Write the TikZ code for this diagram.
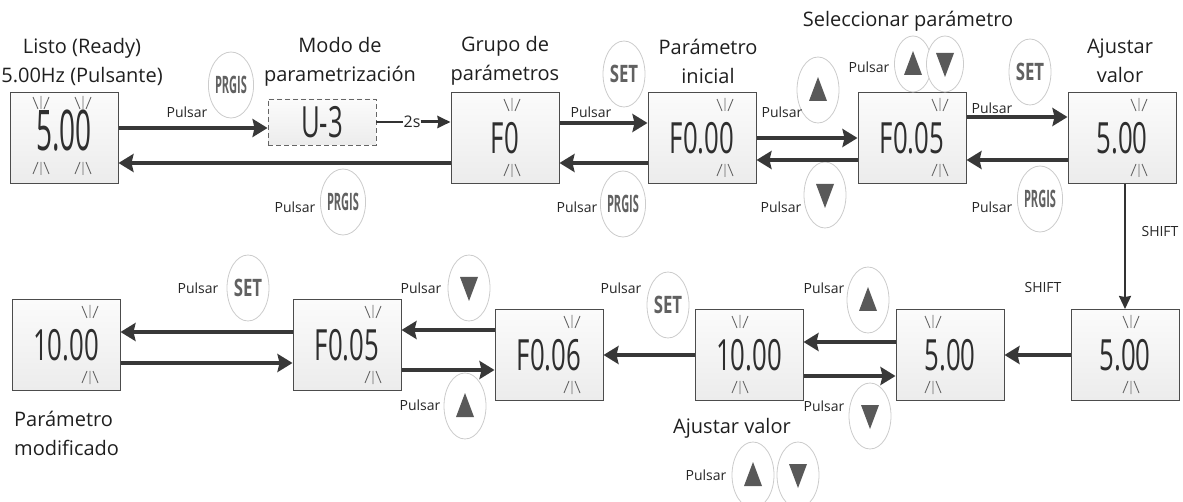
\documentclass[tikz,border=0pt]{standalone}
\usepackage{fontspec}
\setmainfont{Open Sans}
\usepackage{graphicx}
\usetikzlibrary{arrows.meta, positioning, shapes.geometric}

\newcommand{\lcd}[2][0.6]{\scalebox{#1}[1]{#2}}

\begin{document}
\begin{tikzpicture}[
    x=1pt, y=-1pt,
    >=Stealth,
    box/.style={draw=black!70, line width=1pt, top color=gray!3, bottom color=gray!15,
      minimum width=108pt, minimum height=91pt, inner sep=0pt, text=black!82,
      font=\fontsize{43}{43}\selectfont},
    key/.style={ellipse, draw=black!20, line width=0.8pt, fill=white,
      minimum width=42pt, minimum height=66pt, inner sep=0pt,
      font=\bfseries\fontsize{24}{24}\selectfont, text=black!62},
    smallkey/.style={key, minimum width=37pt, minimum height=56pt},
    lbl/.style={font=\fontsize{20}{29}\selectfont, align=center, inner sep=0pt, text=black!88},
    note/.style={font=\fontsize{14}{16}\selectfont, inner sep=0pt, text=black!85},
    arr/.style={-{Stealth[length=15pt, width=18pt, inset=2pt]}, line width=4pt, draw=black!78},
    thinarr/.style={-{Stealth[length=13pt, width=12pt, inset=1pt]}, line width=2pt, draw=black!80},
    ray/.style={line width=0.9pt, draw=black!60}
  ]
  \useasboundingbox (0,0) rectangle (1183,502);

  % Top row
  \node[box, text depth=16pt] (rdy) at (64,138) {\lcd[0.5]{\fontsize{56}{56}\selectfont 5.00}};
  \node[lbl] at (82,62) {Listo (Ready)\\5.00Hz (Pulsante)};

  \node[box, dash pattern=on 5pt off 3pt, minimum height=46pt, draw=black!60, line width=0.9pt] (mode) at (322,122) {\lcd{U-3}};
  \node[lbl] at (340,62) {Modo de\\parametrización};
  \node[note, font=\fontsize{16}{16}\selectfont] (twos) at (412,122) {2s};

  \node[box] (grp) at (505,138) {\lcd{F0}};
  \node[lbl] at (505,61) {Grupo de\\parámetros};

  \node[box] (ini) at (702,138) {\lcd{F0.00}};
  \node[lbl] at (708,61) {Parámetro\\inicial};

  \node[box] (sel) at (912,138) {\lcd{F0.05}};
  \node[lbl] at (908,21) {Seleccionar parámetro};

  \node[box] (adj) at (1122,138) {\lcd{5.00}};
  \node[lbl] at (1120,61) {Ajustar\\valor};

  % Bottom row
  \node[box] (mod) at (66,345) {\lcd{10.00}};
  \node[lbl, align=left, anchor=west] at (14,433) {Parámetro\\modificado};
  \node[box] (fsel) at (347,345) {\lcd{F0.05}};
  \node[box] (fnext) at (549,355) {\lcd{F0.06}};
  \node[box] (val) at (749,355) {\lcd{10.00}};
  \node[lbl] at (732,428) {Ajustar valor};
  \node[box] (dig) at (950,355) {\lcd{5.00}};
  \node[box] (shf) at (1125,355) {\lcd{5.00}};

  % Keys
  \node[key] (k1) at (231,85) {\lcd[0.46]{PRGIS}};
  \node[key] (k2) at (343,202) {\lcd[0.46]{PRGIS}};
  \node[key] (k3) at (624,74) {\lcd[0.7]{SET}};
  \node[key] (k4) at (623,204) {\lcd[0.46]{PRGIS}};
  \node[key] (k5) at (818,90) {};
  \node[key] (k6) at (825,195) {};
  \node[smallkey] (k7) at (913,64) {};
  \node[smallkey] (k8) at (945,64) {};
  \node[key] (k9) at (1030,72) {\lcd[0.7]{SET}};
  \node[key] (k10) at (1040,199) {\lcd[0.46]{PRGIS}};
  \node[key] (k11) at (868,300) {};
  \node[key] (k12) at (870,416) {};
  \node[key] (k13) at (668,305) {\lcd[0.7]{SET}};
  \node[key] (k14) at (753,475) {};
  \node[key] (k15) at (798,475) {};
  \node[key] (k16) at (469,288) {};
  \node[key] (k17) at (465,406) {};
  \node[key] (k18) at (248,288) {\lcd[0.7]{SET}};

  \foreach \k in {k5, k7, k11, k14, k17}
    \fill[black!65] ([shift={(0,-13)}]\k.center) -- ([shift={(9,11)}]\k.center)
      -- ([shift={(-9,11)}]\k.center) -- cycle;
  \foreach \k in {k6, k8, k12, k15, k16}
    \fill[black!65] ([shift={(0,13)}]\k.center) -- ([shift={(9,-11)}]\k.center)
      -- ([shift={(-9,-11)}]\k.center) -- cycle;

  % Notes
  \foreach \x/\y in {187/112, 295/207, 591/112, 577/207, 782/112, 781/207, 869/67,
      992/108, 992/207, 824/288, 824/406, 621/288, 706/475, 421/288, 420/405, 198/288}
    \node[note] at (\x,\y) {Pulsar};
  \node[note] at (1160,232) {SHIFT};
  \node[note] at (1043,288) {SHIFT};

  % Blinking digits
  \foreach \x/\y in {41/136, 83/136, 512/138, 725/138, 940/138, 1139/138,
      90/345, 373/345, 572/355, 740/355, 933/355, 1131/355} {
    \draw[ray] (\x-8,\y-39) -- (\x-3,\y-27) (\x,\y-40) -- (\x,\y-27) (\x+8,\y-39) -- (\x+3,\y-27);
    \draw[ray] (\x-3,\y+26) -- (\x-8,\y+38) (\x,\y+26) -- (\x,\y+39) (\x+3,\y+26) -- (\x+8,\y+38);
  }

  % Arrows, top
  \draw[arr] ([yshift=10pt]rdy.east) -- ([yshift=-6pt]mode.west);
  \draw[line width=2.5pt, draw=black!80] (mode.east) -- (twos.west);
  \draw[thinarr, line width=3pt] (twos.east) -- ([yshift=16pt]grp.west);
  \draw[arr] ([yshift=-25pt]grp.west) -- ([yshift=-25pt]rdy.east);
  \draw[arr] ([yshift=15pt]grp.east) -- ([yshift=15pt]ini.west);
  \draw[arr] ([yshift=-25pt]ini.west) -- ([yshift=-25pt]grp.east);
  \draw[arr] (ini.east) -- (sel.west);
  \draw[arr] ([yshift=-22pt]sel.west) -- ([yshift=-22pt]ini.east);
  \draw[arr] ([yshift=21pt]sel.east) -- ([yshift=21pt]adj.west);
  \draw[arr] ([yshift=-22pt]adj.west) -- ([yshift=-22pt]sel.east);
  \draw[thinarr] (shf.north |- adj.south) -- (shf.north);

  % Arrows, bottom
  \draw[arr] (shf.west) -- (dig.east);
  \draw[arr] ([yshift=13pt]dig.west) -- ([yshift=13pt]val.east);
  \draw[arr] ([yshift=-21pt]val.east) -- ([yshift=-21pt]dig.west);
  \draw[arr] (val.west) -- (fnext.east);
  \draw[arr] ([yshift=25pt]fnext.west) -- ([yshift=15pt]fsel.east);
  \draw[arr] ([yshift=-25pt]fsel.east) -- ([yshift=-15pt]fnext.west);
  \draw[arr] ([yshift=13pt]fsel.west) -- ([yshift=13pt]mod.east);
  \draw[arr] ([yshift=-18pt]mod.east) -- ([yshift=-18pt]fsel.west);
\end{tikzpicture}
\end{document}
